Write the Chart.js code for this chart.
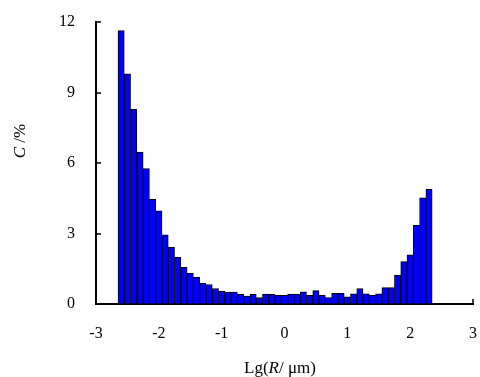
<!DOCTYPE html>
<html>
<head>
<meta charset="utf-8">
<script src="https://cdn.jsdelivr.net/npm/chart.js@4.4.1/dist/chart.umd.min.js"></script>
<style>
  html, body { margin: 0; padding: 0; background: #fff; }
  #wrap { position: relative; width: 480px; height: 377px; }
</style>
</head>
<body>
<div id="wrap"><canvas id="sizeChart" width="480" height="377"></canvas></div>
<script>
// bin centres of Lg(R/um), bin width 0.1
const binCenters = [
    -2.6, -2.5, -2.4, -2.3, -2.2, -2.1, -2.0, -1.9, -1.8, -1.7,
    -1.6, -1.5, -1.4, -1.3, -1.2, -1.1, -1.0, -0.9, -0.8, -0.7,
    -0.6, -0.5, -0.4, -0.3, -0.2, -0.1, 0.0, 0.1, 0.2, 0.3,
    0.4, 0.5, 0.6, 0.7, 0.8, 0.9, 1.0, 1.1, 1.2, 1.3,
    1.4, 1.5, 1.6, 1.7, 1.8, 1.9, 2.0, 2.1, 2.2, 2.3
];
// C / %
const percent = [
    11.63, 9.79, 8.28, 6.47, 5.76, 4.45, 3.97, 2.94, 2.41, 1.99,
    1.56, 1.31, 1.14, 0.88, 0.83, 0.66, 0.55, 0.51, 0.51, 0.41,
    0.34, 0.41, 0.27, 0.42, 0.41, 0.37, 0.37, 0.42, 0.42, 0.52,
    0.37, 0.57, 0.37, 0.27, 0.45, 0.45, 0.31, 0.43, 0.66, 0.43,
    0.37, 0.43, 0.70, 0.70, 1.23, 1.80, 2.09, 3.35, 4.52, 4.88
];
const xTicks = [-3, -2, -1, 0, 1, 2, 3];
const yTicks = [0, 3, 6, 9, 12];

const serif = '"Liberation Serif", "Times New Roman", serif';

// tick marks pointing into the plot, drawn under the bars
const innerTicks = {
    id: 'innerTicks',
    beforeDatasetsDraw(chart) {
        const ctx = chart.ctx;
        const xs = chart.scales.x, ys = chart.scales.y;
        const len = 5;
        ctx.save();
        ctx.strokeStyle = '#000';
        ctx.lineWidth = 1.5;
        ctx.beginPath();
        yTicks.forEach(v => {
            const py = Math.round(ys.getPixelForValue(v));
            ctx.moveTo(xs.left, py);
            ctx.lineTo(xs.left + len, py);
        });
        xTicks.forEach(v => {
            const px = Math.round(xs.getPixelForValue(v));
            ctx.moveTo(px, ys.bottom);
            ctx.lineTo(px, ys.bottom - len);
        });
        ctx.stroke();
        ctx.restore();
    }
};

// axis titles with mixed italic / upright parts
function drawParts(ctx, parts, x, y) {
    let total = 0;
    parts.forEach(p => { ctx.font = p[1]; total += ctx.measureText(p[0]).width; });
    let cx = x - total / 2;
    parts.forEach(p => {
        ctx.font = p[1];
        ctx.fillText(p[0], cx, y);
        cx += ctx.measureText(p[0]).width;
    });
}

const axisTitles = {
    id: 'axisTitles',
    afterDraw(chart) {
        const ctx = chart.ctx;
        const up = '17px ' + serif, it = 'italic 17px ' + serif;
        ctx.save();
        ctx.fillStyle = '#000';
        ctx.textBaseline = 'middle';
        ctx.textAlign = 'left';
        drawParts(ctx, [['Lg(', up], ['R', it], ['/ μm)', up]], 280, 369);
        ctx.translate(21, 141);
        ctx.rotate(-Math.PI / 2);
        drawParts(ctx, [['C', it], [' /%', up]], 0, 0);
        ctx.restore();
    }
};

const ctx = document.getElementById('sizeChart').getContext('2d');
new Chart(ctx, {
    type: 'bar',
    data: {
        datasets: [{
            data: binCenters.map((c, i) => ({ x: c, y: percent[i] })),
            backgroundColor: '#0000ff',
            borderColor: '#000000',
            borderWidth: 1,
            barPercentage: 1,
            categoryPercentage: 1
        }]
    },
    options: {
        responsive: false,
        animation: false,
        events: [],
        layout: { padding: { top: 22, right: 7, left: 0, bottom: 0 } },
        plugins: { legend: { display: false }, tooltip: { enabled: false } },
        scales: {
            x: {
                type: 'linear',
                min: -3,
                max: 3,
                offset: false,
                afterFit: s => { s.height = 73; },
                afterBuildTicks: s => { s.ticks = xTicks.map(v => ({ value: v })); },
                grid: { drawOnChartArea: false, drawTicks: true, tickLength: 20, tickColor: 'rgba(0,0,0,0)' },
                border: { display: true, color: '#000', width: 2 },
                ticks: { color: '#000', padding: 0, autoSkip: false, maxRotation: 0,
                         font: { family: serif, size: 16 } }
            },
            y: {
                min: 0,
                max: 12,
                afterFit: s => { s.width = 96; },
                afterBuildTicks: s => { s.ticks = yTicks.map(v => ({ value: v })); },
                grid: { drawOnChartArea: false, drawTicks: true, tickLength: 21, tickColor: 'rgba(0,0,0,0)' },
                border: { display: true, color: '#000', width: 2 },
                ticks: { color: '#000', padding: 0, font: { family: serif, size: 16 } }
            }
        }
    },
    plugins: [innerTicks, axisTitles]
});
</script>
</body>
</html>
